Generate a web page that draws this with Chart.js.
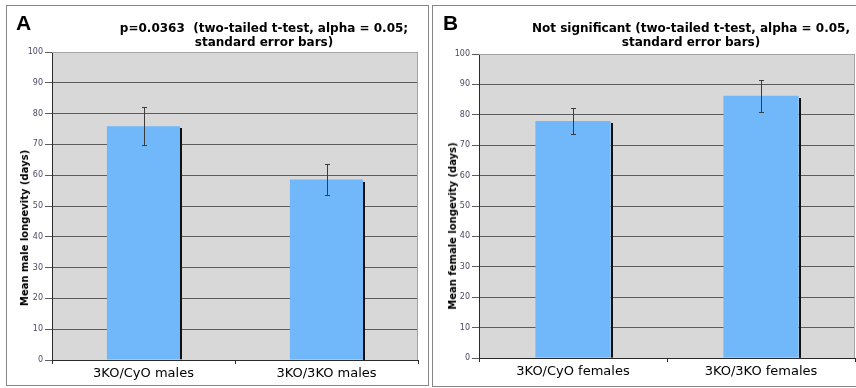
<!DOCTYPE html>
<html>
<head>
<meta charset="utf-8">
<script src="https://cdn.jsdelivr.net/npm/chart.js@4/dist/chart.umd.min.js"></script>
<style>
  html, body { margin: 0; padding: 0; background: #fff; }
  body { width: 856px; height: 388px; position: relative; overflow: hidden; font-family: "DejaVu Sans", sans-serif; }
  .panel { position: absolute; border: 1px solid #858585; background: #fff; }
  .panel canvas { position: absolute; left: 0; top: 0; }
  .letter { position: absolute; font: bold 21px/21px "Liberation Sans", Arial, sans-serif; color: #000; }
  .headline { position: absolute; font: bold 12px/14px "DejaVu Sans", sans-serif; color: #000; text-align: center; white-space: nowrap; transform: translateX(-50%); }
  .ytitle { position: absolute; font: bold 10px/12px "DejaVu Sans", sans-serif; color: #000; white-space: nowrap; transform: translate(-50%, -50%) rotate(-90deg); }
</style>
</head>
<body>
  <div class="panel" id="panel-a" style="left:6px; top:5px; width:421px; height:379px;">
    <canvas id="chart-a" width="421" height="379"></canvas>
  </div>
  <div class="panel" id="panel-b" style="left:432px; top:5px; width:430px; height:380px;">
    <canvas id="chart-b" width="430" height="380"></canvas>
  </div>

  <div class="letter" style="left:16px; top:12px;">A</div>
  <div class="headline" style="left:264px; top:21px;">p=0.0363&nbsp;&nbsp;(two-tailed t-test, alpha = 0.05;<br>standard error bars)</div>
  <div class="ytitle" style="left:25px; top:228px;">Mean male longevity (days)</div>

  <div class="letter" style="left:443px; top:12px;">B</div>
  <div class="headline" style="left:691px; top:21px;">Not significant (two-tailed t-test, alpha = 0.05,<br>standard error bars)</div>
  <div class="ytitle" style="left:453px; top:226px;">Mean female longevity (days)</div>

<script>
// values
const maleLabels = ["3KO/CyO males", "3KO/3KO males"];
const maleMeans = [75.9, 58.6];
const maleErrors = [6.1, 5.1];

const femaleLabels = ["3KO/CyO females", "3KO/3KO females"];
const femaleMeans = [78.0, 86.3];
const femaleErrors = [4.3, 5.25];

const yMin = 0;
const yMax = 100;
const yStep = 10;

const PLOT_BG = "#d8d8d8";
const BAR_COLOR = "#70b8fa";
const GRID_COLOR = "#5c5c5c";
const TICK_COLOR = "#4a4a66";

// grey plot area behind grid, shadows + error bars after bars
const excelLook = {
  id: "excelLook",
  beforeDraw(chart) {
    const { ctx, chartArea: a } = chart;
    ctx.save();
    ctx.fillStyle = PLOT_BG;
    ctx.fillRect(a.left, a.top, a.right - a.left, a.bottom - a.top);
    ctx.restore();
  },
  afterDatasetsDraw(chart, args, opts) {
    const { ctx } = chart;
    const y = chart.scales.y;
    const meta = chart.getDatasetMeta(0);
    const errs = opts.errors || [];
    ctx.save();
    meta.data.forEach((bar, i) => {
      const half = bar.width / 2;
      // drop shadow on right side
      ctx.fillStyle = "#111";
      ctx.fillRect(Math.round(bar.x + half), Math.round(bar.y + 2), 2, bar.base - bar.y - 2);
      // error bar
      const mean = chart.data.datasets[0].data[i];
      const e = errs[i] || 0;
      const top = Math.round(y.getPixelForValue(mean + e)) + 0.5;
      const bot = Math.round(y.getPixelForValue(mean - e)) + 0.5;
      const x = Math.round(bar.x) + 0.5;
      ctx.strokeStyle = "#3c3c3c";
      ctx.lineWidth = 1;
      ctx.beginPath();
      ctx.moveTo(x, top); ctx.lineTo(x, bot);
      ctx.moveTo(x - 2.5, top); ctx.lineTo(x + 2.5, top);
      ctx.moveTo(x - 2.5, bot); ctx.lineTo(x + 2.5, bot);
      ctx.stroke();
    });
    ctx.restore();
  },
  afterDraw(chart) {
    const { ctx, chartArea: a } = chart;
    ctx.save();
    ctx.strokeStyle = "#a4a4a4";
    ctx.lineWidth = 1;
    ctx.beginPath();
    ctx.moveTo(a.left, a.top + 0.5);
    ctx.lineTo(a.right - 0.5, a.top + 0.5);
    ctx.lineTo(a.right - 0.5, a.bottom);
    ctx.stroke();
    ctx.restore();
  },
};

function makePanel(canvasId, labels, means, errors, box) {
  const canvas = document.getElementById(canvasId);
  return new Chart(canvas, {
    type: "bar",
    data: {
      labels,
      datasets: [{
        data: means,
        backgroundColor: BAR_COLOR,
        borderWidth: 0,
        categoryPercentage: 1,
        barPercentage: 0.4,
      }],
    },
    plugins: [excelLook],
    options: {
      responsive: false,
      animation: false,
      devicePixelRatio: 1,
      layout: { padding: { left: 0, top: box.top, right: box.right, bottom: 0 } },
      plugins: {
        legend: { display: false },
        tooltip: { enabled: false },
        excelLook: { errors },
      },
      scales: {
        x: {
          type: "category",
          afterFit(axis) { axis.height = box.xHeight; },
          border: { display: true, color: "#2a2a2a", width: 1 },
          grid: { display: true, drawOnChartArea: false, drawTicks: true, tickLength: 4, offset: true, color: "#2a2a2a" },
          ticks: { color: "#000", padding: 2, maxRotation: 0, font: { family: "DejaVu Sans", size: 13 } },
        },
        y: {
          min: yMin,
          max: yMax,
          afterFit(axis) { axis.width = box.yWidth; },
          border: { display: true, color: "#2a2a2a", width: 1 },
          grid: {
            color: (c) => (c.tick && c.tick.value === yMax ? "#a4a4a4" : GRID_COLOR),
            tickColor: GRID_COLOR,
            tickLength: 7,
            lineWidth: 1,
          },
          ticks: { stepSize: yStep, color: TICK_COLOR, padding: 2, font: { family: "DejaVu Sans", size: 8 } },
        },
      },
    },
  });
}

makePanel("chart-a", maleLabels, maleMeans, maleErrors, { top: 46, right: 10, yWidth: 45, xHeight: 25 });
makePanel("chart-b", femaleLabels, femaleMeans, femaleErrors, { top: 48, right: 8, yWidth: 46, xHeight: 28 });
</script>
</body>
</html>
